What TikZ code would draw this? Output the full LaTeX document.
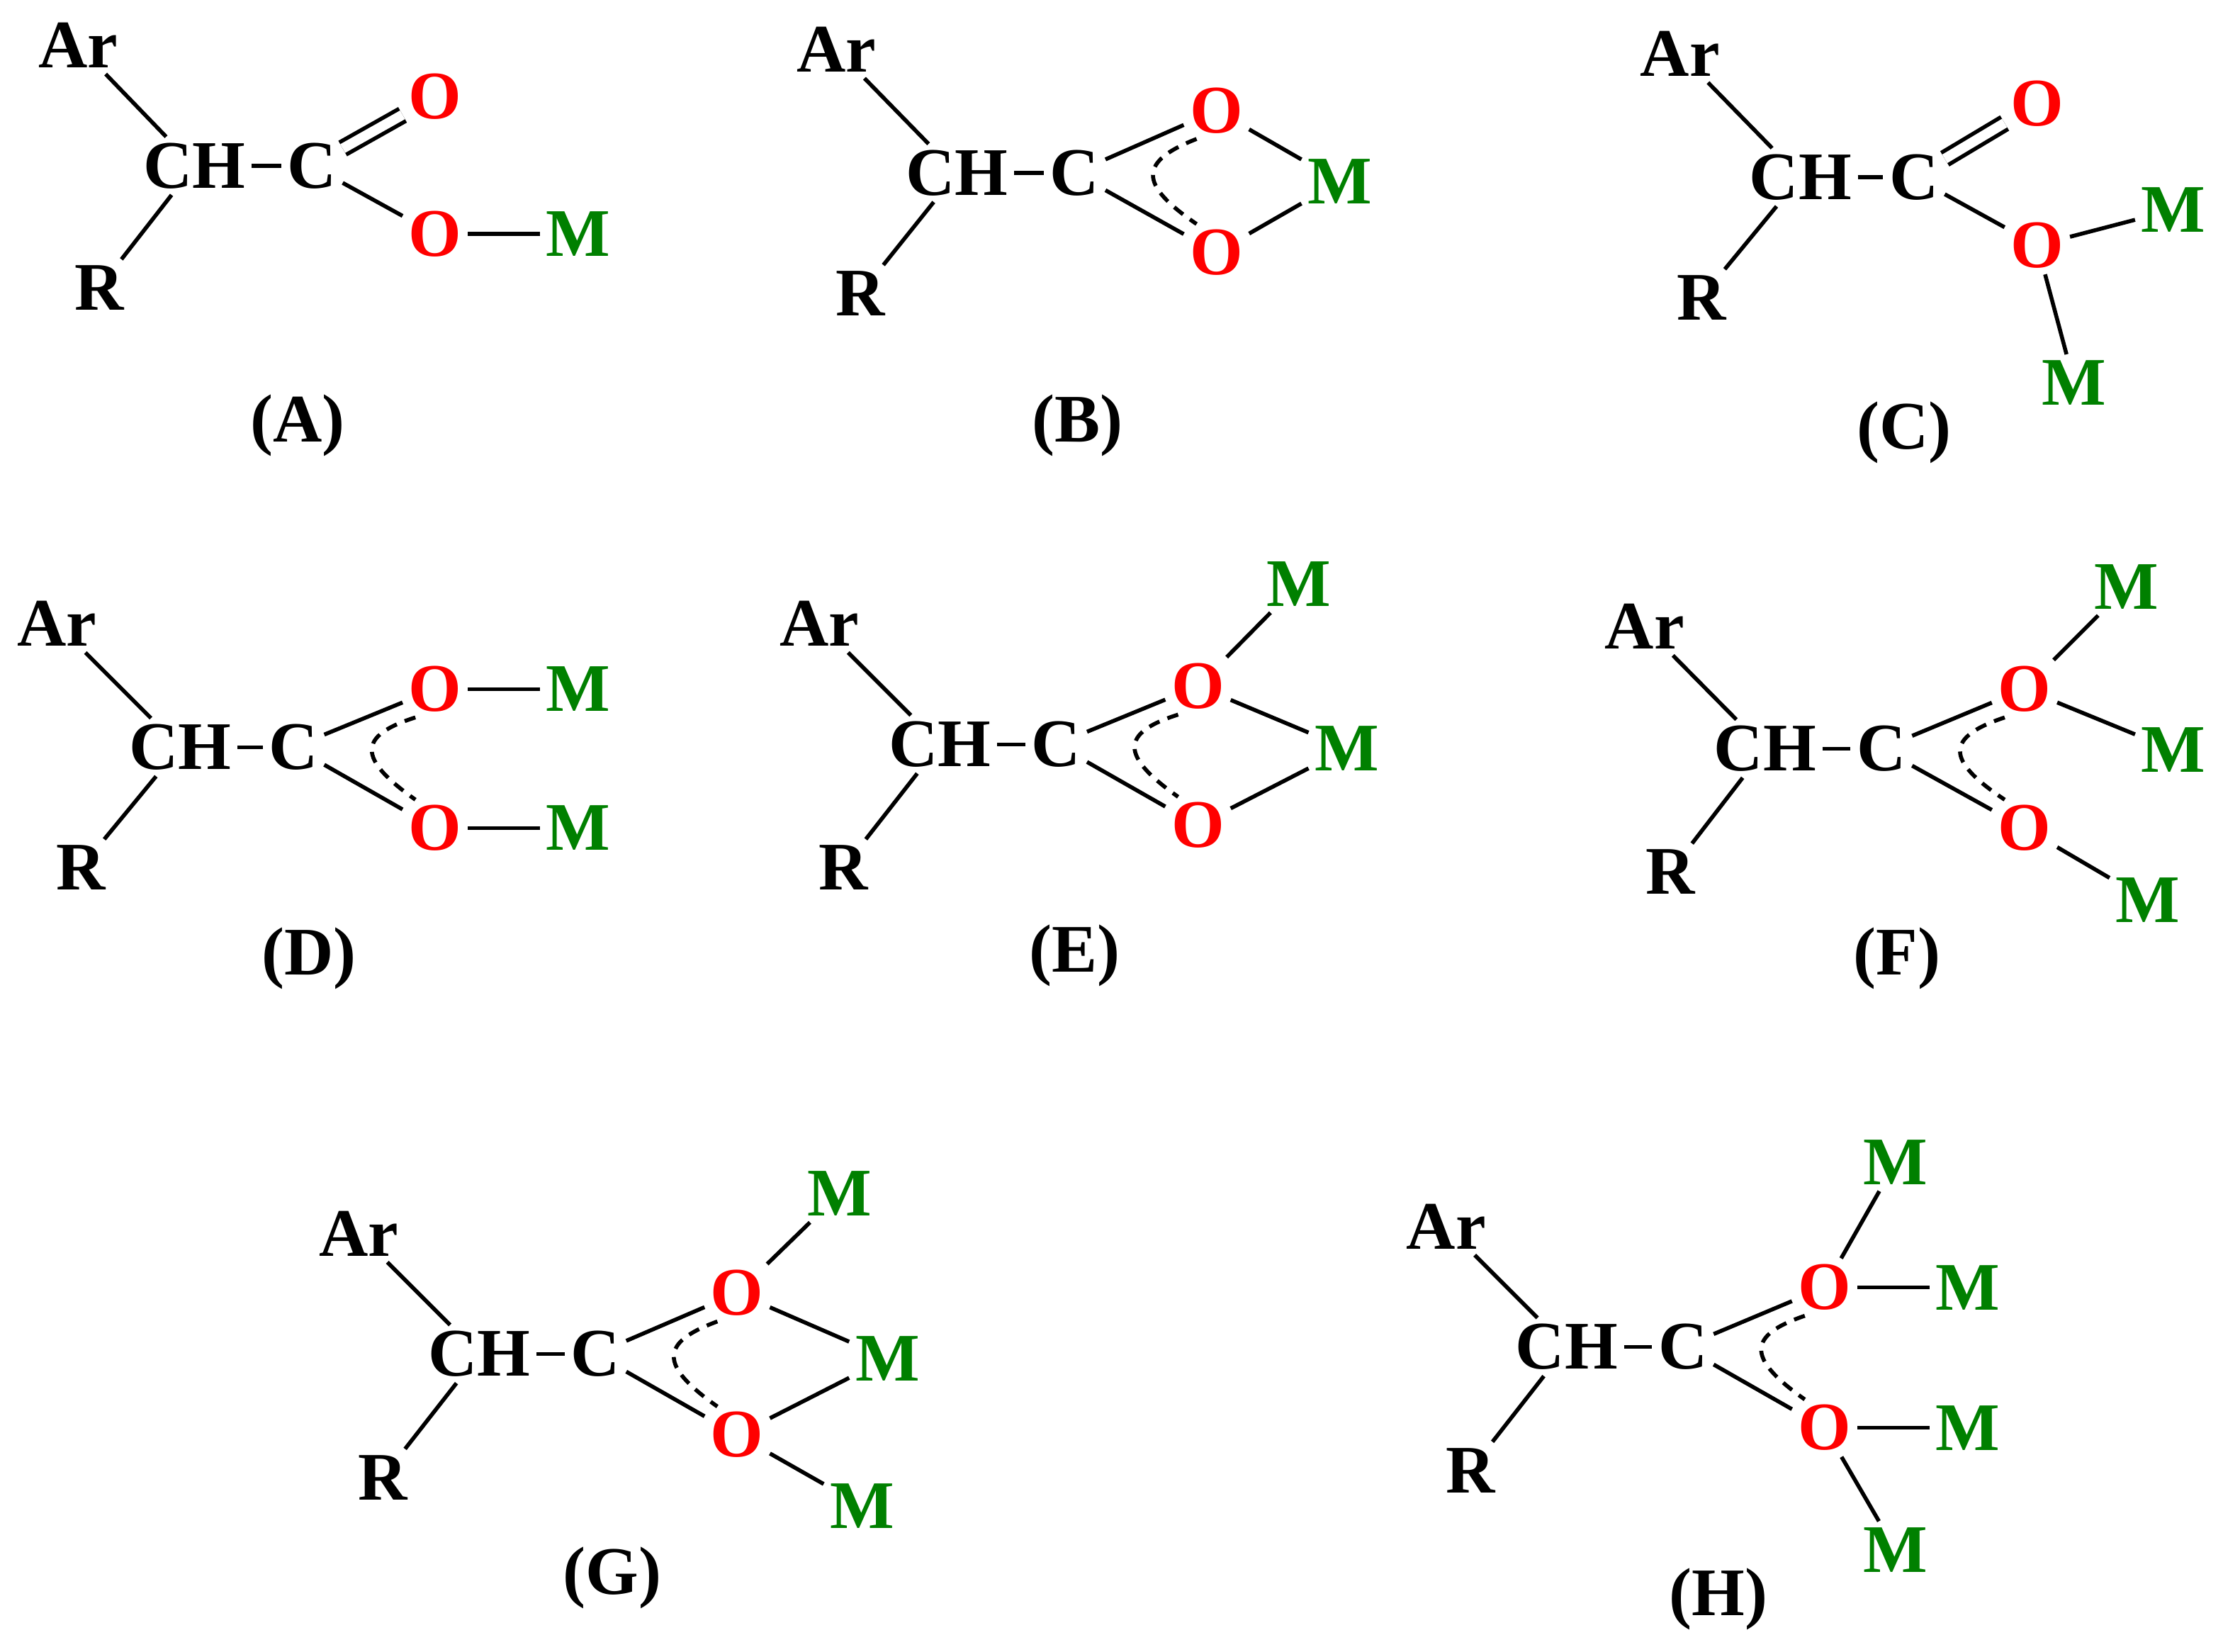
\documentclass[tikz,border=0pt]{standalone}
\usepackage{fontspec}
\setmainfont{Liberation Serif}[BoldFont={Liberation Serif Bold}]
\usetikzlibrary{calc}
\definecolor{mgreen}{RGB}{0,128,0}
\begin{document}
\begin{tikzpicture}[x=0.5pt,y=-0.5pt,
  atom/.style={font=\fontsize{24}{27}\selectfont\bfseries,inner sep=2pt},
  ox/.style={atom,text=red},
  mm/.style={atom,text=mgreen},
  bd/.style={line width=1.4pt},
  dbl/.style={line width=1.4pt,double,double distance=3.5pt},
  arc/.style={line width=1.4pt,dash pattern=on 4pt off 3pt}]
\useasboundingbox (0,0) rectangle (1568,1165);
\newcommand\skel[9]{%
  \node[atom] (#1ar) at (#2,#3) {Ar};
  \node[atom] (#1ch) at (#4,#5) {CH};
  \node[atom] (#1c) at (#6,#7) {C};
  \node[atom] (#1r) at (#8,#9) {R};
  \draw[bd] (#1ar) -- (#1ch);
  \draw[bd] (#1ch) -- (#1r);
  \draw[bd] (#1ch) -- (#1c);}
\newcommand\darc[1]{%
  \draw[arc] ($(#1o1)+(-14,20)$) .. controls ($(#1c)+(45,-8)$) and ($(#1c)+(45,8)$) .. ($(#1o2)+(-14,-20)$);}
% A
\skel{a}{55}{32}{137}{117}{220}{117}{70}{203}
\node[ox] (ao1) at (307,68) {O};
\node[ox] (ao2) at (307,165) {O};
\node[mm] (am) at (408,165) {M};
\draw[dbl] (ac) -- (ao1); \draw[bd] (ac) -- (ao2); \draw[bd] (ao2) -- (am);
\node[atom] (al) at (210,300) {(A)};
% B
\skel{b}{590}{35}{675}{122}{758}{122}{607}{207}
\node[ox] (bo1) at (858,78) {O};
\node[ox] (bo2) at (858,178) {O};
\node[mm] (bm) at (945,128) {M};
\draw[bd] (bc) -- (bo1); \draw[bd] (bc) -- (bo2); \draw[bd] (bo1) -- (bm); \draw[bd] (bo2) -- (bm);
\darc{b}
\node[atom] (bl) at (760,300) {(B)};
% C
\skel{c}{1185}{38}{1270}{125}{1350}{125}{1200}{210}
\node[ox] (co1) at (1437,73) {O};
\node[ox] (co2) at (1437,173) {O};
\node[mm] (cm1) at (1533,148) {M};
\node[mm] (cm2) at (1463,270) {M};
\draw[dbl] (cc) -- (co1); \draw[bd] (cc) -- (co2); \draw[bd] (co2) -- (cm1); \draw[bd] (co2) -- (cm2);
\node[atom] (cl) at (1343,305) {(C)};
% D
\skel{d}{40}{440}{127}{527}{207}{527}{57}{612}
\node[ox] (do1) at (307,486) {O};
\node[ox] (do2) at (307,584) {O};
\node[mm] (dm1) at (408,486) {M};
\node[mm] (dm2) at (408,584) {M};
\draw[bd] (dc) -- (do1); \draw[bd] (dc) -- (do2); \draw[bd] (do1) -- (dm1); \draw[bd] (do2) -- (dm2);
\darc{d}
\node[atom] (dl) at (218,676) {(D)};
% E
\skel{e}{578}{440}{663}{525}{745}{525}{595}{612}
\node[ox] (eo1) at (845,484) {O};
\node[ox] (eo2) at (845,582) {O};
\node[mm] (em1) at (916,412) {M};
\node[mm] (em2) at (950,528) {M};
\draw[bd] (ec) -- (eo1); \draw[bd] (ec) -- (eo2); \draw[bd] (eo1) -- (em1); \draw[bd] (eo1) -- (em2); \draw[bd] (eo2) -- (em2);
\darc{e}
\node[atom] (el) at (758,674) {(E)};
% F
\skel{f}{1160}{442}{1245}{528}{1327}{528}{1178}{615}
\node[ox] (fo1) at (1428,486) {O};
\node[ox] (fo2) at (1428,584) {O};
\node[mm] (fm1) at (1500,414) {M};
\node[mm] (fm2) at (1533,529) {M};
\node[mm] (fm3) at (1515,635) {M};
\draw[bd] (fc) -- (fo1); \draw[bd] (fc) -- (fo2); \draw[bd] (fo1) -- (fm1); \draw[bd] (fo1) -- (fm2); \draw[bd] (fo2) -- (fm3);
\darc{f}
\node[atom] (fl) at (1338,676) {(F)};
% G
\skel{g}{253}{870}{338}{955}{420}{955}{270}{1042}
\node[ox] (go1) at (520,912) {O};
\node[ox] (go2) at (520,1012) {O};
\node[mm] (gm1) at (592,842) {M};
\node[mm] (gm2) at (626,958) {M};
\node[mm] (gm3) at (608,1062) {M};
\draw[bd] (gc) -- (go1); \draw[bd] (gc) -- (go2); \draw[bd] (go1) -- (gm1); \draw[bd] (go1) -- (gm2); \draw[bd] (go2) -- (gm2); \draw[bd] (go2) -- (gm3);
\darc{g}
\node[atom] (gl) at (432,1113) {(G)};
% H
\skel{h}{1020}{865}{1105}{950}{1187}{950}{1037}{1037}
\node[ox] (ho1) at (1287,908) {O};
\node[ox] (ho2) at (1287,1007) {O};
\node[mm] (hmt) at (1337,820) {M};
\node[mm] (hm1) at (1388,908) {M};
\node[mm] (hm2) at (1388,1007) {M};
\node[mm] (hmb) at (1337,1093) {M};
\draw[bd] (hc) -- (ho1); \draw[bd] (hc) -- (ho2); \draw[bd] (ho1) -- (hmt); \draw[bd] (ho1) -- (hm1); \draw[bd] (ho2) -- (hm2); \draw[bd] (ho2) -- (hmb);
\darc{h}
\node[atom] (hl) at (1212,1128) {(H)};
\end{tikzpicture}
\end{document}
